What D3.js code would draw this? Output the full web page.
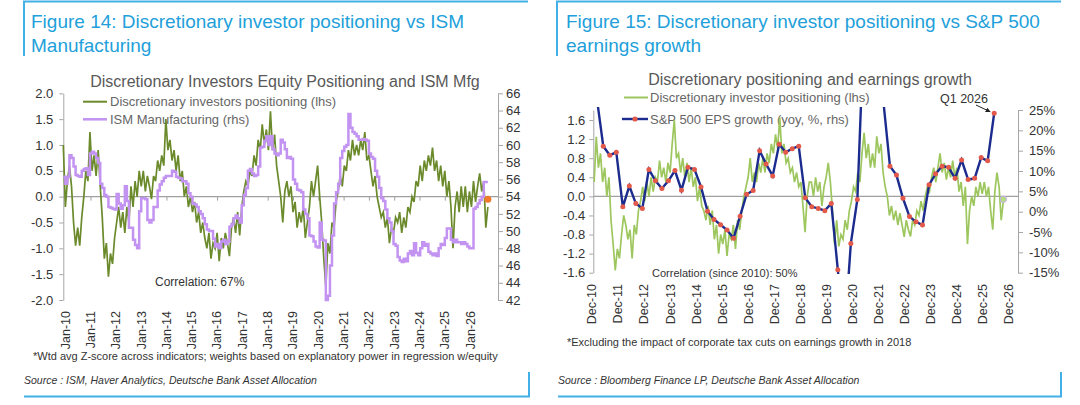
<!DOCTYPE html>
<html>
<head>
<meta charset="utf-8">
<script src="https://cdn.jsdelivr.net/npm/d3@7"></script>
<style>
    body { margin: 0; background: #fff; }
    svg text { font-family: "Liberation Sans", Arial, Helvetica, sans-serif; }
</style>
</head>
<body>
<svg id="chart" width="1080" height="405"></svg>
<script>
// ---- Figure 14 data (evenly spaced samples) ----
var leftGreen = [
    1.0, -0.2, 0.3, 0.6, 0.2, -0.5, -0.95, -0.6, -0.95, -0.4, 0.0, 0.5,
    0.3, 1.25, 0.5, 0.8, 0.4, 0.9, 0.2, -0.4, -1.2, -0.9, -1.55, -1.1,
    -1.3, -0.8, -0.5, -0.2, -0.6, -0.3, -0.7, -0.2, -0.5, 0.2, -0.2, 0.3,
    0.0, 0.5, 0.2, 0.5, 0.1, 0.4, 0.2, -0.05, 0.4, 0.3, 0.7, 0.5,
    0.8, 0.6, 1.5, 0.9, 1.1, 0.7, 0.9, 0.5, 0.8, 0.3, 0.5, 0.0,
    0.2, -0.2, 0.0, -0.3, -0.1, -0.5, -0.3, -0.7, -0.5, -0.8, -1.0, -0.7,
    -1.2, -0.9, -1.0, -0.7, -1.25, -0.8, -1.0, -0.7, -0.9, -1.15, -0.6, -0.4,
    -0.7, -0.3, -0.75, -0.2, 0.1, 0.3, 0.2, 0.5, 0.4, 0.8, 0.6, 1.1,
    0.9, 1.4, 1.0, 1.3, 0.9, 1.65, 0.9, 1.2, 0.6, 0.3, 0.0, -0.5,
    0.1, 0.3, 0.0, 0.2, -0.3, -0.1, -0.6, -0.3, -0.5, -0.2, -0.8, -0.5,
    -0.2, 0.3, 0.0, 0.3, 0.6, 0.0, -0.5, -1.2, -1.75, -0.9, -1.1, -0.5,
    -0.6, -0.1, 0.1, 0.4, 0.2, 0.6, 0.5, 0.9, 0.7, 1.1, 0.8, 1.0,
    0.8, 1.1, 0.9, 1.25, 0.7, 0.8, 0.5, 0.2, 0.4, 0.0, -0.2, -0.4,
    -0.3, -0.6, -0.4, -0.9, -0.6, -0.7, -0.4, -0.5, -0.3, -0.7, -0.4, -0.6,
    -0.2, -0.3, 0.0, -0.1, 0.3, 0.2, 0.6, 0.3, 0.7, 0.5, 0.8, 0.6,
    0.95, 0.5, 0.7, 0.3, 0.6, 0.2, 0.5, 0.0, 0.3, -0.2, -1.0, -0.2,
    0.1, -0.3, 0.2, -0.2, 0.2, -0.3, 0.1, -0.2, 0.3, -0.1, 0.2, 0.45,
    0.1, 0.3, -0.6, -0.2
];
var leftIsm = [
    56.3, 55.5, 56.3, 58.8, 58.5, 57.5, 56.5, 56.4, 56.3, 57.0, 57.2, 57.3,
    56.5, 59.0, 59.2, 59.0, 58.5, 57.9, 55.5, 55.0, 54.2, 54.0, 52.8, 52.7,
    52.6, 52.5, 54.3, 53.2, 52.6, 53.0, 55.2, 53.5, 50.4, 50.4, 49.0, 48.4,
    48.0, 52.3, 53.8, 53.8, 53.7, 51.3, 51.0, 51.3, 52.8, 52.8, 54.7, 55.4,
    55.8, 56.2, 56.4, 56.4, 56.4, 57.0, 56.9, 56.3, 56.2, 56.1, 55.8, 55.8,
    55.5, 54.4, 54.0, 53.2, 53.1, 52.8, 52.3, 52.0, 51.5, 50.8, 50.2, 50.0,
    50.0, 49.1, 48.2, 48.5, 48.0, 48.8, 49.0, 48.5, 48.8, 50.5, 50.8, 51.5,
    51.8, 51.5, 51.0, 53.0, 54.2, 55.0, 57.0, 57.2, 56.7, 56.4, 56.5, 57.5,
    59.7, 59.8, 60.5, 61.0, 60.0, 61.0, 59.5, 59.0, 58.8, 59.0, 60.6, 60.3,
    59.5, 58.5, 58.6, 58.4, 56.0, 55.5, 54.8, 54.7, 54.5, 52.5, 52.0, 51.5,
    49.5, 49.4, 48.8, 48.2, 48.1, 51.0, 49.0, 48.9, 42.0, 42.5, 46.0, 49.5,
    53.2, 54.5, 55.5, 58.5, 59.3, 59.8, 60.0, 63.6, 62.0, 61.5, 61.3, 61.0,
    60.6, 60.6, 60.7, 60.6, 60.5, 59.0, 58.6, 58.4, 57.0, 56.3, 55.0, 53.8,
    53.5, 52.5, 51.5, 51.0, 50.0, 48.5, 48.3, 47.0, 46.6, 46.4, 46.8, 46.5,
    47.4, 47.7, 47.2, 48.6, 47.5, 47.2, 48.0, 48.7, 48.3, 48.5, 47.6, 47.4,
    47.2, 47.4, 47.1, 48.0, 48.5, 48.4, 49.2, 50.3, 50.3, 49.0, 48.7, 49.0,
    48.7, 48.7, 48.5, 48.7, 48.5, 48.2, 48.0, 48.0, 52.6, 52.8, 53.2, 53.6,
    54.0, 55.7, 55.7, 55.7
];
var leftSpan = [2009.925, 2026.70];   // first / last sample (decimal years)
var leftLatest = -0.05;
var leftTickYears = d3.range(2010, 2027);
var leftYTicks = [-2, -1.5, -1, -0.5, 0, 0.5, 1, 1.5, 2];
var ismTicks = d3.range(42, 67, 2);

// ---- Figure 15 data ----
var rightGreen = [
    0.3, 1.25, 0.6, 0.9, 0.3, 0.6, 0.0, 0.4, -0.5, -1.0, -1.55,
    -1.1, -1.3, -0.8, -0.4, -0.6, -0.9, -0.7, -1.3, -0.6, -0.8, -0.3, -0.1,
    0.2, -0.1, 0.3, 0.0, 0.4, 0.1, 0.4, 0.3, 0.75, 0.4, 0.6, 0.3,
    0.7, 0.5, 1.1, 1.6, 0.8, 0.9, 0.5, 0.8, 0.4, 0.7, 0.3, 0.6,
    0.2, 0.4, -0.1, 0.2, -0.2, -0.3, -0.5, -0.2, -0.6, -0.3, -0.9, -0.6,
    -1.2, -0.8, -1.0, -0.7, -1.25, -0.8, -0.9, -0.6, -1.1, -0.5, -0.7, -0.3,
    0.0, 0.2, 0.4, 0.8, 0.3, 0.5, 0.3, 0.7, 0.5, 0.8, 0.5, 0.9,
    0.7, 1.1, 0.9, 1.3, 1.0, 1.65, 0.9, 1.1, 0.7, 0.8, 0.5, 0.6,
    0.3, 0.5, 0.2, 0.3, -0.2, -0.75, 0.0, 0.3, 0.3, 0.0, 0.4, 0.1,
    0.3, -0.2, 0.2, 0.4, 0.7, 0.3, -0.3, -1.0, -0.5, -1.05, -0.8, -0.9,
    -0.5, -0.7, -0.3, -0.1, 0.2, 0.1, 0.5, 0.3, 0.9, 1.33, 0.8, 1.1,
    0.6, 0.9, 0.6, 1.26, 0.9, 1.1, 0.5, 0.2, 0.0, -0.4, -0.2, -0.5,
    -0.3, -0.6, -0.35, -0.6, -0.85, -0.5, -0.7, -0.84, -0.5, -0.6, -0.3, -0.4,
    -0.1, -0.3, 0.0, 0.2, 0.1, 0.4, 0.6, 0.3, 0.6, 0.9, 0.5, 0.7,
    0.35, 0.6, 0.4, 0.75, 0.4, 0.6, 0.1, 0.3, -0.2, 0.2, -1.0, -0.3,
    0.0, -0.2, 0.2, 0.0, 0.3, 0.05, 0.3, 0.0, 0.2, -0.3, -0.7, 0.1,
    0.5, 0.2, -0.5, -0.1
];
var rightSpan = [2011.0, 2026.70];
var rightLatest = -0.06;
// S&P 500 EPS growth yoy %, quarterly Q4 2010 .. Q1 2026
var epsGrowth = [
    28, 16.1, 13.9, 14.6, 1.2, 6.3, 2.0, 0.8, 10.4, 7.6, 5.7, 7.6,
    10.1, 5.3, 10.9, 10.4, 6.1, 0.1, -1.9, -3.2, -4.5, -6.5, -1.1, 4.3,
    5.2, 15.0, 11.7, 8.8, 16.6, 14.6, 15.5, 16.1, 3.4, 1.2, 0.8, 0.25,
    2.0, -14.3, -30.6, -7.8, 3.0, 45, 90, 50, 27, 11.2, 9.0, 3.3,
    -1.2, -2.5, -3.3, 6.6, 9.3, 11.2, 10.9, 8.2, 12.7, 7.9, 8.2, 13.3,
    12.5, 24.2
];
var epsFirstQuarter = { year: 2010, q: 4 };
var rightTickYears = d3.range(2010, 2027);
var rightYTicks = [-1.6, -1.2, -0.8, -0.4, 0, 0.4, 0.8, 1.2, 1.6];
var epsTicks = [-15, -10, -5, 0, 5, 10, 15, 20, 25];

var svg = d3.select('#chart');
var BLUE = '#42afe6';

function styleAxis (g, size) {
    g.attr('font-family', null).attr('font-size', null);
    g.select('.domain').attr('stroke', '#a6a6a6');
    g.selectAll('.tick line').attr('stroke', '#a6a6a6');
    g.selectAll('.tick text').attr('fill', '#333').style('font-size', (size || 13) + 'px');
}

function frames () {
    var f = svg.append('g').attr('fill', 'none').attr('stroke', BLUE).attr('stroke-width', 2);
    f.append('path').attr('d', 'M24,56V1.5H528');
    f.append('path').attr('d', 'M557,56V1.5H1061');
    f.append('path').attr('d', 'M24,396.5H529V372');
    f.append('path').attr('d', 'M558,396.5H1061V372');

    var t = svg.append('g').attr('fill', '#229fda').style('font-size', '19px');
    t.append('text').attr('x', 31).attr('y', 27.5).text('Figure 14: Discretionary investor positioning vs ISM');
    t.append('text').attr('x', 31).attr('y', 51.5).text('Manufacturing');
    t.append('text').attr('x', 566).attr('y', 27.5).text('Figure 15: Discretionary investor positioning vs S&P 500');
    t.append('text').attr('x', 566).attr('y', 51.5).text('earnings growth');

    var n = svg.append('g').attr('fill', '#333').style('font-size', '11px');
    n.append('text').attr('x', 33).attr('y', 359.5)
        .text('*Wtd avg Z-score across indicators; weights based on explanatory power in regression w/equity');
    n.append('text').attr('x', 567).attr('y', 346)
        .text('*Excluding the impact of corporate tax cuts on earnings growth in 2018');

    var s = svg.append('g').attr('fill', '#333').style('font-size', '10.5px').style('font-style', 'italic');
    s.append('text').attr('x', 24).attr('y', 383.5).text('Source : ISM, Haver Analytics, Deutsche Bank Asset Allocation');
    s.append('text').attr('x', 558).attr('y', 383.5).text('Source : Bloomberg Finance LP, Deutsche Bank Asset Allocation');
}

function renderLeft () {
    var x = d3.scaleLinear().domain([2009.925, 2027.1]).range([63.3, 498]);
    var y = d3.scaleLinear().domain([-2, 2]).range([300, 93.3]);
    var yIsm = d3.scaleLinear().domain([42, 66]).range([300, 93.3]);
    var pos = d3.scaleLinear().domain([0, leftGreen.length - 1]).range(leftSpan);
    var g = svg.append('g');

    g.append('text').attr('x', 285).attr('y', 87).attr('text-anchor', 'middle')
        .attr('fill', '#595959').style('font-size', '16px')
        .text('Discretionary Investors Equity Positioning and ISM Mfg');

    styleAxis(g.append('g').attr('transform', 'translate(63.3,0)')
        .call(d3.axisLeft(y).tickValues(leftYTicks).tickFormat(function (d) { return d.toFixed(1); })
            .tickSize(4).tickSizeOuter(0).tickPadding(6)));
    styleAxis(g.append('g').attr('transform', 'translate(498,0)')
        .call(d3.axisRight(yIsm).tickValues(ismTicks).tickSize(5).tickSizeOuter(0).tickPadding(3)));

    // zero line + year ticks
    g.append('line').attr('x1', 63.3).attr('x2', 498).attr('y1', y(0)).attr('y2', y(0))
        .attr('stroke', '#a0a0a0').attr('stroke-width', 1.2);
    var xt = g.append('g').attr('transform', 'translate(0,' + y(0) + ')')
        .call(d3.axisBottom(x).tickValues(leftTickYears).tickSize(4).tickFormat(''));
    xt.select('.domain').remove();
    xt.selectAll('.tick line').attr('stroke', '#a0a0a0');

    g.append('g').selectAll('text').data(leftTickYears).join('text')
        .attr('transform', function (d) { return 'translate(' + x(d) + ',311) rotate(-90)'; })
        .attr('text-anchor', 'end').attr('dy', '0.35em').attr('fill', '#333').style('font-size', '12.5px')
        .text(function (d) { return 'Jan-' + String(d).slice(2); });

    // legend
    var lg = g.append('g').style('font-size', '13px').attr('fill', '#666');
    lg.append('line').attr('x1', 83).attr('x2', 107).attr('y1', 101.7).attr('y2', 101.7)
        .attr('stroke', '#6b8a2b').attr('stroke-width', 2);
    lg.append('text').attr('x', 110).attr('y', 101.7).attr('dy', '0.35em').text('Discretionary investors positioning (lhs)');
    lg.append('line').attr('x1', 83).attr('x2', 107).attr('y1', 119.3).attr('y2', 119.3)
        .attr('stroke', '#c393f2').attr('stroke-width', 2.5);
    lg.append('text').attr('x', 110).attr('y', 119.3).attr('dy', '0.35em').text('ISM Manufacturing (rhs)');

    g.append('path').datum(leftGreen)
        .attr('fill', 'none').attr('stroke', '#6b8a2b').attr('stroke-width', 1.7)
        .attr('d', d3.line().x(function (d, i) { return x(pos(i)); }).y(function (d) { return y(d); }));
    g.append('path').datum(leftIsm)
        .attr('fill', 'none').attr('stroke', '#c393f2').attr('stroke-width', 2.5)
        .attr('d', d3.line().curve(d3.curveStepAfter)
            .x(function (d, i) { return x(pos(i)); }).y(function (d) { return yIsm(d); }));

    g.append('circle').attr('cx', x(leftSpan[1])).attr('cy', y(leftLatest)).attr('r', 3.5).attr('fill', '#f07a2a');

    g.append('text').attr('x', 155).attr('y', 285.5).attr('fill', '#333').style('font-size', '12px')
        .text('Correlation: 67%');
}

function renderRight () {
    var x = d3.scaleLinear().domain([2010.967, 2027.264]).range([593.3, 1018]);
    var y = d3.scaleLinear().domain([-1.6, 1.81]).range([272.7, 110]);
    var yEps = d3.scaleLinear().domain([-15, 25]).range([272.7, 110]);
    var pos = d3.scaleLinear().domain([0, rightGreen.length - 1]).range(rightSpan);
    var g = svg.append('g');

    g.append('text').attr('x', 810).attr('y', 85).attr('text-anchor', 'middle')
        .attr('fill', '#595959').style('font-size', '16px')
        .text('Discretionary positioning and earnings growth');

    styleAxis(g.append('g').attr('transform', 'translate(593.3,0)')
        .call(d3.axisLeft(y).tickValues(rightYTicks).tickFormat(function (d) { return d.toFixed(1); })
            .tickSize(4).tickSizeOuter(0).tickPadding(4)));
    styleAxis(g.append('g').attr('transform', 'translate(1018,0)')
        .call(d3.axisRight(yEps).tickValues(epsTicks).tickFormat(function (d) { return d + '%'; })
            .tickSize(5).tickSizeOuter(0).tickPadding(6)));

    g.append('line').attr('x1', 593.3).attr('x2', 1018).attr('y1', y(0)).attr('y2', y(0))
        .attr('stroke', '#a0a0a0').attr('stroke-width', 1.2);

    g.append('g').selectAll('text').data(rightTickYears).join('text')
        .attr('transform', function (d) { return 'translate(' + x(d + 11 / 12) + ',284) rotate(-90)'; })
        .attr('text-anchor', 'end').attr('dy', '0.35em').attr('fill', '#333').style('font-size', '12.5px')
        .text(function (d) { return 'Dec-' + String(d).slice(2); });

    // legend
    var lg = g.append('g').style('font-size', '13px').attr('fill', '#666');
    lg.append('line').attr('x1', 624).attr('x2', 648).attr('y1', 97.5).attr('y2', 97.5)
        .attr('stroke', '#9dc75e').attr('stroke-width', 2);
    lg.append('text').attr('x', 650).attr('y', 97.5).attr('dy', '0.35em').text('Discretionary investor positioning (lhs)');
    lg.append('line').attr('x1', 622).attr('x2', 648).attr('y1', 119).attr('y2', 119)
        .attr('stroke', '#1c2b8e').attr('stroke-width', 2.4);
    lg.append('circle').attr('cx', 635).attr('cy', 119).attr('r', 2.6).attr('fill', '#e35a4b');
    lg.append('text').attr('x', 650).attr('y', 119).attr('dy', '0.35em').text('S&P 500 EPS growth (yoy, %, rhs)');

    g.append('path').datum(rightGreen)
        .attr('fill', 'none').attr('stroke', '#9dc75e').attr('stroke-width', 1.7)
        .attr('d', d3.line().x(function (d, i) { return x(pos(i)); }).y(function (d) { return y(d); }));

    // EPS: quarterly points, plotted about a month after quarter end
    var eps = epsGrowth.map(function (v, i) {
        var q = epsFirstQuarter.q - 1 + i;
        var yr = epsFirstQuarter.year + Math.floor(q / 4);
        return { t: yr + (q % 4 + 1) / 4 + 0.1, v: v };
    });
    g.append('clipPath').attr('id', 'clipR').append('rect')
        .attr('x', 593.3).attr('y', 107).attr('width', 1018 - 593.3).attr('height', 167);
    var e = g.append('g').attr('clip-path', 'url(#clipR)');
    e.append('path').datum(eps)
        .attr('fill', 'none').attr('stroke', '#1c2b8e').attr('stroke-width', 2.4)
        .attr('d', d3.line().x(function (d) { return x(d.t); }).y(function (d) { return yEps(d.v); }));
    e.selectAll('circle').data(eps).join('circle')
        .attr('cx', function (d) { return x(d.t); }).attr('cy', function (d) { return yEps(d.v); })
        .attr('r', 2.5).attr('fill', '#e35a4b');

    g.append('circle').attr('cx', x(rightSpan[1])).attr('cy', y(rightLatest)).attr('r', 3.2)
        .attr('fill', '#b6de80').attr('stroke', '#c9a8f2').attr('stroke-width', 1);

    // annotation
    var last = eps[eps.length - 1];
    g.append('text').attr('x', 940).attr('y', 103).attr('fill', '#333').style('font-size', '12.5px').text('Q1 2026');
    g.append('defs').append('marker').attr('id', 'arr').attr('viewBox', '0 0 10 10')
        .attr('refX', 9).attr('refY', 5).attr('markerWidth', 5).attr('markerHeight', 5).attr('orient', 'auto')
        .append('path').attr('d', 'M0,0L10,5L0,10z').attr('fill', '#222');
    g.append('line').attr('x1', 976).attr('y1', 105).attr('x2', x(last.t) - 4).attr('y2', yEps(last.v) - 1.5)
        .attr('stroke', '#222').attr('stroke-width', 1).attr('marker-end', 'url(#arr)');

    g.append('text').attr('x', 652).attr('y', 277).attr('fill', '#333').style('font-size', '11px')
        .text('Correlation (since 2010): 50%');
}

frames();
renderLeft();
renderRight();
</script>
</body>
</html>
